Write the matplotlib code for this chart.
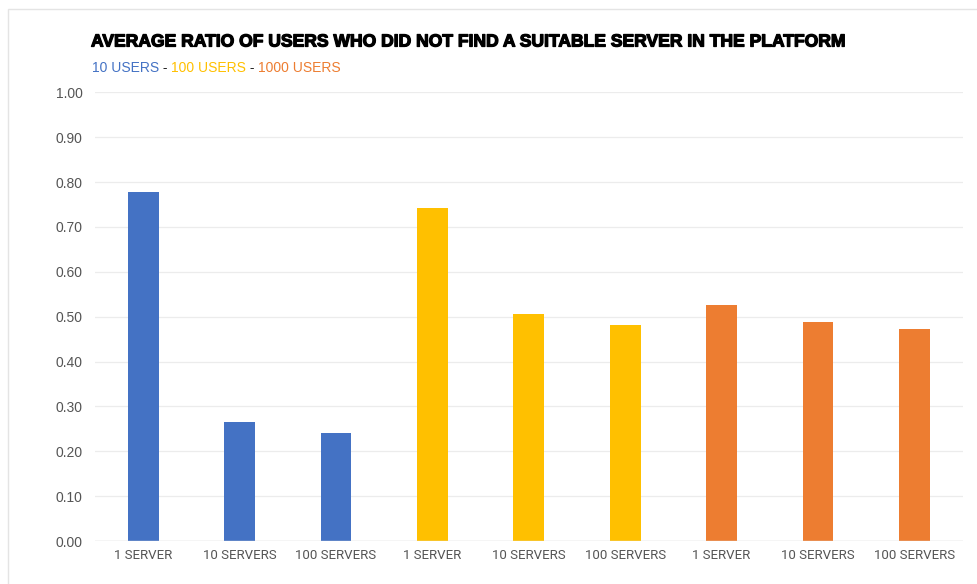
import matplotlib

matplotlib.use("Agg")
import matplotlib.pyplot as plt
import matplotlib.patheffects as pe
from matplotlib.patches import Rectangle
import numpy as np

plt.rcParams["font.family"] = ["Liberation Sans", "DejaVu Sans"]

categories = ["1 SERVER", "10 SERVERS", "100 SERVERS"] * 3
groups = ["10 USERS", "100 USERS", "1000 USERS"]
ratios = [0.778, 0.265, 0.240, 0.741, 0.507, 0.481, 0.526, 0.489, 0.472]
group_colors = ["#4472C4", "#FFC000", "#ED7D31"]
yticks = [0.0, 0.1, 0.2, 0.3, 0.4, 0.5, 0.6, 0.7, 0.8, 0.9, 1.0]

fig = plt.figure(figsize=(9.77, 5.84), dpi=100)
ax = fig.add_axes([0.0972, 0.0736, 0.888, 0.7684])

# light frame around the card
fig.add_artist(Rectangle((8 / 977, -0.1), 1.2, 0.1 + 1 - 9 / 584,
                         transform=fig.transFigure, fill=False,
                         edgecolor="#e4e4e4", linewidth=1.0))

x = np.arange(len(ratios))
bar_colors = [c for c in group_colors for _ in range(3)]
ax.bar(x, ratios, width=0.32, color=bar_colors, zorder=3)

ax.set_xlim(-0.5, len(ratios) - 0.5)
ax.set_ylim(0, 1.0)
ax.set_yticks(yticks)
ax.set_yticklabels([f"{v:.2f}" for v in yticks])
ax.set_xticks(x)
ax.set_xticklabels(categories, family="Roboto")
ax.tick_params(axis="y", length=0, pad=9, labelsize=10, labelcolor="#555555")
ax.tick_params(axis="x", length=0, pad=6, labelsize=9.5, labelcolor="#555555")
for lbl in ax.get_xticklabels():
    lbl.set_family("Roboto")
ax.grid(axis="y", color="#ececec", linewidth=0.9, zorder=0)
for side in ["top", "right", "left", "bottom"]:
    ax.spines[side].set_visible(False)
ax.axhline(0, color="#dcdcdc", linewidth=1.0, zorder=4)

fig.text(91 / 977, 1 - 46.5 / 584,
         "AVERAGE RATIO OF USERS WHO DID NOT FIND A SUITABLE SERVER IN THE PLATFORM",
         fontsize=12.6, fontweight="bold", color="#000000", va="baseline",
         path_effects=[pe.withStroke(linewidth=0.9, foreground="#000000")])

# coloured subtitle acting as the legend
prev = fig.text(91.5 / 977, 1 - 71.5 / 584, groups[0], fontsize=10,
                color=group_colors[0], va="baseline")
for name, col in zip(groups[1:], group_colors[1:]):
    sep = ax.annotate(" - ", xy=(1, 0), xycoords=prev, fontsize=10,
                      color="#222222", va="bottom", annotation_clip=False)
    prev = ax.annotate(name, xy=(1, 0), xycoords=sep, fontsize=10,
                       color=col, va="bottom", annotation_clip=False)

fig.savefig("out.png", dpi=100, facecolor="white")
